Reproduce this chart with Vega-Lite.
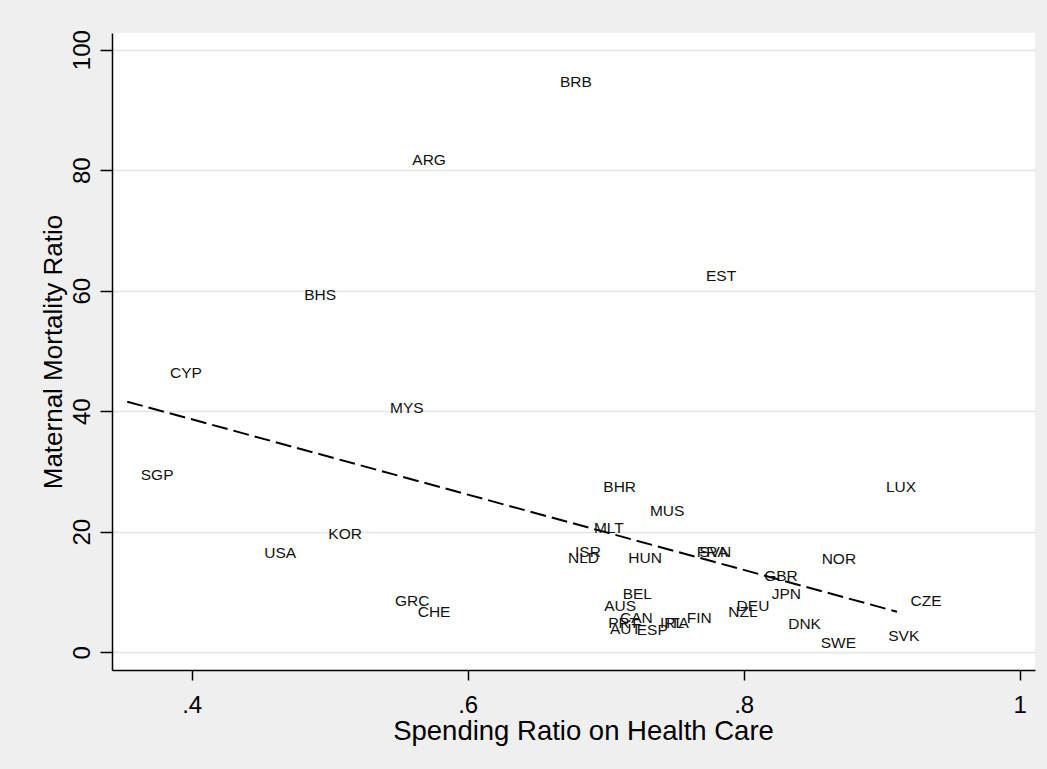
{
  "$schema": "https://vega.github.io/schema/vega-lite/v6.json",
  "width": 923,
  "height": 637,
  "autosize": {"type": "none"},
  "padding": {"left": 112, "top": 33, "right": 12, "bottom": 99},
  "background": "#EFEFEF",
  "config": {
    "view": {"fill": "white", "stroke": null},
    "font": "Liberation Sans",
    "axis": {
      "domainColor": "black",
      "domainWidth": 1.5,
      "tickColor": "black",
      "tickWidth": 1.5,
      "labelFontSize": 24,
      "labelColor": "black",
      "titleFontSize": 26,
      "titleFontWeight": "normal",
      "titleColor": "black",
      "labelFont": "Liberation Sans",
      "titleFont": "Liberation Sans"
    }
  },
  "datasets": {
    "countries": [
      {"code": "BRB", "spend": 0.6571, "mmr": 94.6},
      {"code": "ARG", "spend": 0.5501, "mmr": 81.66},
      {"code": "EST", "spend": 0.7629, "mmr": 62.39},
      {"code": "BHS", "spend": 0.4718, "mmr": 59.37},
      {"code": "CYP", "spend": 0.3745, "mmr": 46.37},
      {"code": "MYS", "spend": 0.5339, "mmr": 40.48},
      {"code": "SGP", "spend": 0.3533, "mmr": 29.49},
      {"code": "KOR", "spend": 0.4892, "mmr": 19.54},
      {"code": "USA", "spend": 0.4428, "mmr": 16.5},
      {"code": "GRC", "spend": 0.5375, "mmr": 8.58},
      {"code": "CHE", "spend": 0.554, "mmr": 6.64},
      {"code": "LUX", "spend": 0.8933, "mmr": 27.5},
      {"code": "BHR", "spend": 0.6885, "mmr": 27.47},
      {"code": "MUS", "spend": 0.7223, "mmr": 23.52},
      {"code": "MLT", "spend": 0.6817, "mmr": 20.56},
      {"code": "ISR", "spend": 0.668, "mmr": 16.71},
      {"code": "NLD", "spend": 0.6629, "mmr": 15.72},
      {"code": "HUN", "spend": 0.7066, "mmr": 15.72},
      {"code": "FRA", "spend": 0.7562, "mmr": 16.71},
      {"code": "SVN", "spend": 0.758, "mmr": 16.71},
      {"code": "GBR", "spend": 0.8051, "mmr": 12.6},
      {"code": "JPN", "spend": 0.8105, "mmr": 9.63},
      {"code": "BEL", "spend": 0.7025, "mmr": 9.66},
      {"code": "AUS", "spend": 0.6892, "mmr": 7.7},
      {"code": "CAN", "spend": 0.7006, "mmr": 5.76},
      {"code": "PRT", "spend": 0.6921, "mmr": 4.88},
      {"code": "AUT", "spend": 0.6933, "mmr": 3.85},
      {"code": "ESP", "spend": 0.7127, "mmr": 3.77},
      {"code": "IRL", "spend": 0.7296, "mmr": 4.85},
      {"code": "ITA", "spend": 0.7339, "mmr": 4.85},
      {"code": "FIN", "spend": 0.7489, "mmr": 5.68},
      {"code": "NZL", "spend": 0.7791, "mmr": 6.67},
      {"code": "DEU", "spend": 0.7851, "mmr": 7.63},
      {"code": "NOR", "spend": 0.8467, "mmr": 15.52},
      {"code": "CZE", "spend": 0.9111, "mmr": 8.55},
      {"code": "DNK", "spend": 0.8225, "mmr": 4.65},
      {"code": "SWE", "spend": 0.846, "mmr": 1.61},
      {"code": "SVK", "spend": 0.895, "mmr": 2.72}
    ],
    "fit": [
      {"spend": 0.3533, "mmr": 41.58},
      {"spend": 0.9111, "mmr": 6.72}
    ]
  },
  "encoding": {
    "x": {
      "field": "spend",
      "type": "quantitative",
      "scale": {"domain": [0.34225, 1.0111], "nice": false, "zero": false},
      "axis": {
        "title": "Spending Ratio on Health Care",
        "values": [0.4, 0.6, 0.8, 1],
        "labelExpr": "datum.value >= 1 ? '1' : substring(format(datum.value, '.1f'), 1)",
        "grid": false,
        "tickSize": 10,
        "labelPadding": 13,
        "labelBaseline": "top",
        "titleFontSize": 27.5,
        "titleX": 471,
        "titlePadding": 0
      }
    },
    "y": {
      "field": "mmr",
      "type": "quantitative",
      "scale": {"domain": [-2.95, 102.77], "nice": false, "zero": false},
      "axis": {
        "title": "Maternal Mortality Ratio",
        "values": [0, 20, 40, 60, 80, 100],
        "grid": true,
        "gridColor": "#E4E4E4",
        "gridWidth": 1.5,
        "tickSize": 12,
        "labelAngle": -90,
        "labelAlign": "center",
        "labelBaseline": "bottom",
        "labelPadding": 6,
        "titlePadding": 4
      }
    }
  },
  "layer": [
    {
      "data": {"name": "countries"},
      "mark": {"type": "text", "align": "left", "baseline": "middle", "dx": 13.5, "fontSize": 15.5, "color": "#111111", "font": "Liberation Sans"},
      "encoding": {"text": {"field": "code", "type": "nominal"}}
    },
    {
      "data": {"name": "fit"},
      "mark": {"type": "line", "color": "black", "strokeWidth": 2, "strokeDash": [16, 6]},
      "encoding": {}
    }
  ]
}
